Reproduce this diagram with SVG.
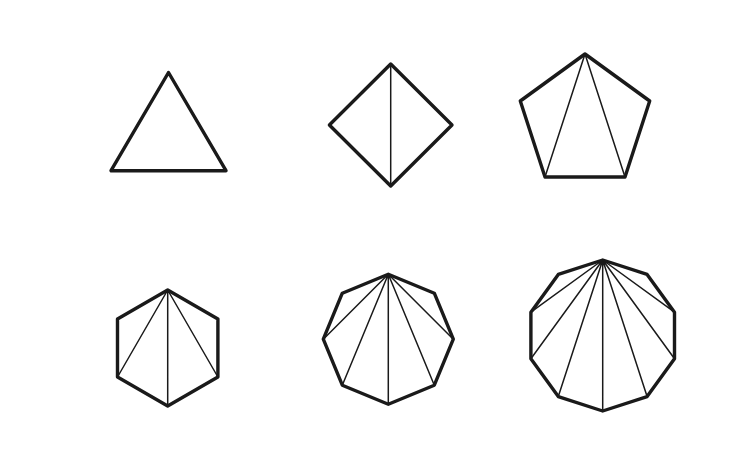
<svg xmlns="http://www.w3.org/2000/svg" width="750" height="472" viewBox="0 0 750 472">
<style>
.o{fill:none;stroke:#1a1a1a;stroke-width:3.4;stroke-linejoin:round}
.d{fill:none;stroke:#1a1a1a;stroke-width:1.5}
</style>
<rect width="750" height="472" fill="#fff"/>
<g id="triangle">
<polygon class="o" points="168.5,72.5 111,170.7 226,170.7"/>
</g>
<g id="square">
<line class="d" x1="390.7" y1="64" x2="390.7" y2="186"/>
<polygon class="o" points="390.7,64 452,125 390.7,186 329.4,125"/>
</g>
<g id="pentagon">
<path class="d" d="M585,54L545,177M585,54L625,177"/>
<polygon class="o" points="585,54 649.7,101 625,177 545,177 520.3,101"/>
</g>
<g id="hexagon">
<path class="d" d="M167.7,290L117.5,377M167.7,290L167.7,406M167.7,290L217.9,377"/>
<polygon class="o" points="167.7,290 217.9,319 217.9,377 167.7,406 117.5,377 117.5,319"/>
</g>
<g id="octagon">
<path class="d" d="M388.3,274.2L323.3,339.2M388.3,274.2L342.3,385.2M388.3,274.2L388.3,404.2M388.3,274.2L434.3,385.2M388.3,274.2L453.3,339.2"/>
<polygon class="o" points="388.3,274.2 434.3,293.2 453.3,339.2 434.3,385.2 388.3,404.2 342.3,385.2 323.3,339.2 342.3,293.2"/>
</g>
<g id="decagon">
<path class="d" d="M602.7,260L530.9,312.2M602.7,260L530.9,358.8M602.7,260L558.3,396.6M602.7,260L602.7,411M602.7,260L647.1,396.6M602.7,260L674.5,358.8M602.7,260L674.5,312.2"/>
<polygon class="o" points="602.7,260 647.1,274.4 674.5,312.2 674.5,358.8 647.1,396.6 602.7,411 558.3,396.6 530.9,358.8 530.9,312.2 558.3,274.4"/>
</g>
</svg>
